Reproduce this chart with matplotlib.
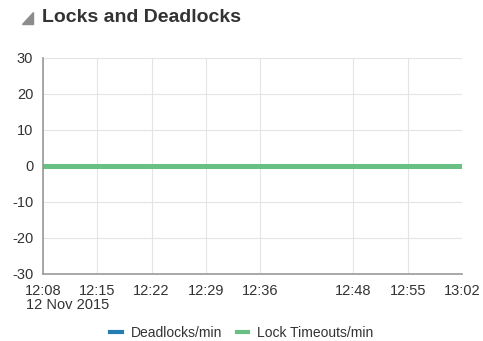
import numpy as np
import matplotlib.pyplot as plt
from matplotlib.patches import Polygon
from matplotlib.lines import Line2D

plt.rcParams['font.family'] = ['Liberation Sans', 'DejaVu Sans']
plt.rcParams['axes.unicode_minus'] = False

# minutes after 12:00 on 12 Nov 2015
minutes = [8, 15, 22, 29, 36, 48, 55, 62]
tick_labels = ['12:08', '12:15', '12:22', '12:29', '12:36', '12:48', '12:55', '13:02']
deadlocks = [0, 0, 0, 0, 0, 0, 0, 0]
lock_timeouts = [0, 0, 0, 0, 0, 0, 0, 0]
y_ticks = [-30, -20, -10, 0, 10, 20, 30]

blue = '#267db3'
green = '#68c182'
text_col = '#333333'

fig = plt.figure(figsize=(4.83, 3.41), dpi=100)
ax = fig.add_axes([0.089, 0.1965, 0.8675, 0.6335])

ax.plot(minutes, deadlocks, color=blue, lw=3.6, solid_capstyle='butt', zorder=3)
ax.plot(minutes, lock_timeouts, color=green, lw=3.6, solid_capstyle='butt', zorder=4)

ax.set_xlim(minutes[0], minutes[-1])
ax.set_ylim(-30, 30)
ax.set_xticks(minutes)
ax.set_xticklabels(tick_labels)
ax.set_yticks(y_ticks)
ax.set_yticklabels([str(v) for v in y_ticks])
ax.grid(True, color='#e4e4e4', lw=0.8)
ax.set_axisbelow(True)
ax.tick_params(length=0, labelsize=10.5, colors=text_col)
ax.tick_params(axis='y', pad=7)
ax.tick_params(axis='x', pad=7)
for side in ['top', 'right']:
    ax.spines[side].set_visible(False)
ax.spines['left'].set_color('#9a9a9a')
ax.spines['bottom'].set_color('#9a9a9a')
ax.spines['left'].set_linewidth(1.2)
ax.spines['bottom'].set_linewidth(1.2)

fig.text(26 / 483, 1 - 305 / 341, '12 Nov 2015', fontsize=10.5, color=text_col,
         va='center', ha='left')

# header: grey triangle and title
tri = Polygon([[22 / 483, 1 - 24 / 341], [33 / 483, 1 - 24 / 341], [33 / 483, 1 - 12 / 341]],
              closed=True, transform=fig.transFigure, color='#8c8c8c')
fig.patches.append(tri)
fig.text(42 / 483, 1 - 18 / 341, 'Locks and Deadlocks', fontsize=14, fontweight='bold',
         color=text_col, va='center', ha='left')

handles = [Line2D([], [], color=blue, lw=3), Line2D([], [], color=green, lw=3)]
fig.legend(handles, ['Deadlocks/min', 'Lock Timeouts/min'], loc='center',
           bbox_to_anchor=(242 / 483, 1 - 333 / 341), ncol=2, frameon=False,
           fontsize=10, handlelength=0.8, handletextpad=0.7, columnspacing=1.0,
           labelcolor=text_col)

fig.savefig('out.png', dpi=100)
